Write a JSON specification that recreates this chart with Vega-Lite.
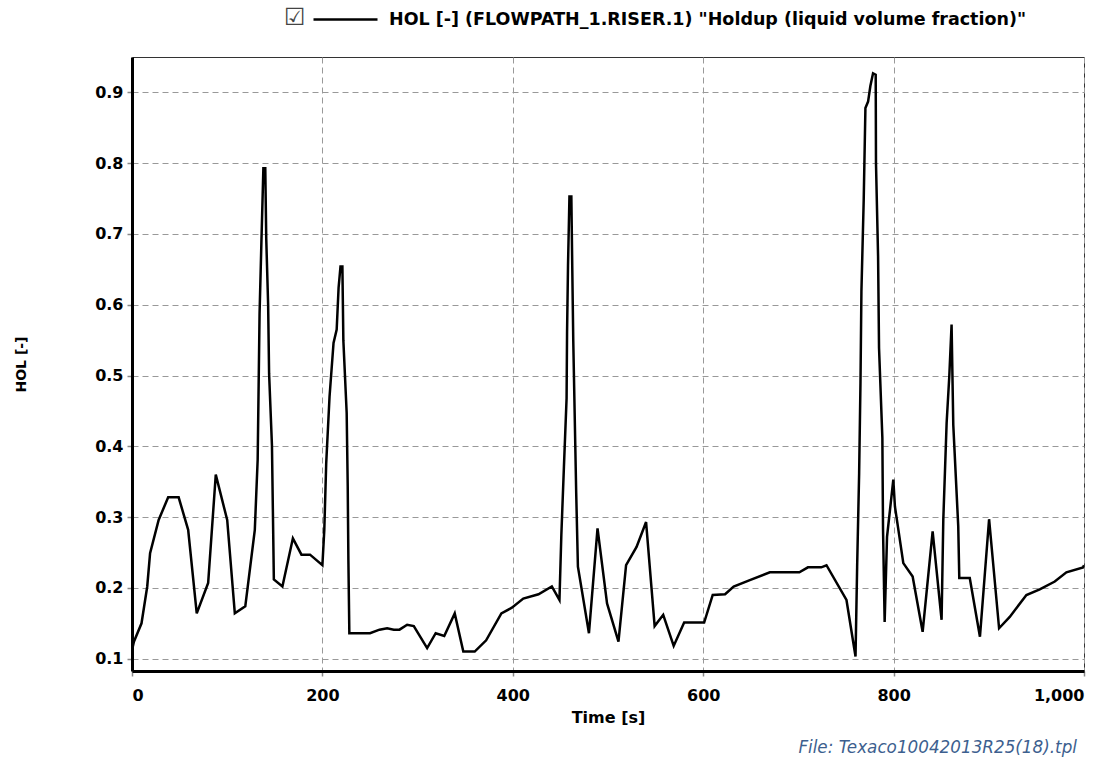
{
  "$schema": "https://vega.github.io/schema/vega-lite/v6.json",
  "width": 952,
  "height": 614,
  "autosize": {"type": "none"},
  "padding": {"left": 132, "top": 57, "right": 29, "bottom": 87},
  "background": "white",
  "title": {
    "text": "File: Texaco10042013R25(18).tpl",
    "orient": "bottom",
    "anchor": "end",
    "frame": "group",
    "font": "DejaVu Sans",
    "fontSize": 16.8,
    "fontStyle": "italic",
    "fontWeight": "normal",
    "color": "#3d5f8f",
    "offset": 15,
    "dx": -7
  },
  "data": {
    "values": [
      {"t": 0, "v": 0.112}, {"t": 2, "v": 0.124}, {"t": 10, "v": 0.150}, {"t": 16, "v": 0.202},
      {"t": 19, "v": 0.249}, {"t": 28, "v": 0.296}, {"t": 38, "v": 0.328}, {"t": 49, "v": 0.328},
      {"t": 59, "v": 0.282}, {"t": 68, "v": 0.164}, {"t": 80, "v": 0.207}, {"t": 88, "v": 0.360},
      {"t": 100, "v": 0.296}, {"t": 108, "v": 0.164}, {"t": 119, "v": 0.174}, {"t": 129, "v": 0.282},
      {"t": 132, "v": 0.381}, {"t": 133, "v": 0.484}, {"t": 134, "v": 0.588}, {"t": 136, "v": 0.692},
      {"t": 138, "v": 0.793}, {"t": 140, "v": 0.793}, {"t": 141, "v": 0.694}, {"t": 143, "v": 0.600},
      {"t": 144, "v": 0.503}, {"t": 147, "v": 0.402}, {"t": 148, "v": 0.308}, {"t": 149, "v": 0.212},
      {"t": 158, "v": 0.202}, {"t": 169, "v": 0.270}, {"t": 178, "v": 0.247}, {"t": 187, "v": 0.247},
      {"t": 200, "v": 0.232}, {"t": 202, "v": 0.282}, {"t": 204, "v": 0.376}, {"t": 207.5, "v": 0.470},
      {"t": 211.7, "v": 0.546}, {"t": 215, "v": 0.565}, {"t": 217, "v": 0.624}, {"t": 219, "v": 0.654},
      {"t": 221, "v": 0.654}, {"t": 222, "v": 0.550}, {"t": 225.5, "v": 0.447}, {"t": 226.6, "v": 0.343},
      {"t": 227.3, "v": 0.239}, {"t": 228.3, "v": 0.136}, {"t": 250, "v": 0.136}, {"t": 260, "v": 0.141},
      {"t": 268, "v": 0.143}, {"t": 275, "v": 0.141}, {"t": 281, "v": 0.141}, {"t": 289, "v": 0.148},
      {"t": 296, "v": 0.146}, {"t": 310, "v": 0.115}, {"t": 319, "v": 0.136}, {"t": 328, "v": 0.132},
      {"t": 339, "v": 0.164}, {"t": 348, "v": 0.110}, {"t": 360, "v": 0.110}, {"t": 372, "v": 0.126},
      {"t": 388, "v": 0.164}, {"t": 399, "v": 0.172}, {"t": 411, "v": 0.185}, {"t": 427, "v": 0.191},
      {"t": 441, "v": 0.202}, {"t": 449, "v": 0.183}, {"t": 451, "v": 0.275}, {"t": 453.7, "v": 0.371},
      {"t": 456.5, "v": 0.468}, {"t": 457, "v": 0.562}, {"t": 458, "v": 0.656}, {"t": 459.5, "v": 0.753},
      {"t": 461.5, "v": 0.753}, {"t": 462.5, "v": 0.649}, {"t": 463.5, "v": 0.550}, {"t": 466.6, "v": 0.334},
      {"t": 468.4, "v": 0.230}, {"t": 480, "v": 0.136}, {"t": 489, "v": 0.284}, {"t": 499, "v": 0.178},
      {"t": 511, "v": 0.124}, {"t": 519, "v": 0.232}, {"t": 530, "v": 0.258}, {"t": 540, "v": 0.293},
      {"t": 549, "v": 0.146}, {"t": 558, "v": 0.162}, {"t": 569, "v": 0.118}, {"t": 580, "v": 0.151},
      {"t": 601, "v": 0.151}, {"t": 610, "v": 0.190}, {"t": 623, "v": 0.191}, {"t": 632, "v": 0.202},
      {"t": 649, "v": 0.211}, {"t": 670, "v": 0.222}, {"t": 701, "v": 0.222}, {"t": 710, "v": 0.229},
      {"t": 724, "v": 0.229}, {"t": 729.5, "v": 0.232}, {"t": 750.5, "v": 0.183}, {"t": 760, "v": 0.103},
      {"t": 761.7, "v": 0.230}, {"t": 763.8, "v": 0.362}, {"t": 765.2, "v": 0.489}, {"t": 766.2, "v": 0.619},
      {"t": 768.6, "v": 0.748}, {"t": 770.4, "v": 0.878}, {"t": 773.2, "v": 0.887}, {"t": 775.6, "v": 0.909},
      {"t": 778.4, "v": 0.927}, {"t": 781.2, "v": 0.925}, {"t": 781.5, "v": 0.800}, {"t": 783.7, "v": 0.668},
      {"t": 784.7, "v": 0.539}, {"t": 788.2, "v": 0.412}, {"t": 788.9, "v": 0.282}, {"t": 790.6, "v": 0.152},
      {"t": 793.1, "v": 0.272}, {"t": 799.7, "v": 0.353}, {"t": 801.4, "v": 0.315}, {"t": 810.2, "v": 0.235},
      {"t": 820, "v": 0.216}, {"t": 830.5, "v": 0.138}, {"t": 841, "v": 0.280}, {"t": 850.4, "v": 0.155},
      {"t": 852.2, "v": 0.296}, {"t": 855.7, "v": 0.433}, {"t": 858.5, "v": 0.499}, {"t": 860.9, "v": 0.572},
      {"t": 862.7, "v": 0.430}, {"t": 867.9, "v": 0.287}, {"t": 869, "v": 0.214}, {"t": 880, "v": 0.214},
      {"t": 890.7, "v": 0.131}, {"t": 900.3, "v": 0.297}, {"t": 910.8, "v": 0.143}, {"t": 922, "v": 0.159},
      {"t": 939.5, "v": 0.190}, {"t": 953.5, "v": 0.198}, {"t": 969.3, "v": 0.209}, {"t": 981.5, "v": 0.222},
      {"t": 999, "v": 0.229}, {"t": 1000, "v": 0.232}
    ]
  },
  "mark": {"type": "line", "strokeWidth": 2.5, "clip": true},
  "encoding": {
    "x": {
      "field": "t", "type": "quantitative", "title": "Time [s]",
      "scale": {"domain": [0, 1000], "nice": false, "zero": false},
      "axis": {"values": [0, 200, 400, 600, 800, 1000], "format": ",d", "labelPadding": 11, "titlePadding": 6}
    },
    "y": {
      "field": "v", "type": "quantitative", "title": "HOL [-]",
      "scale": {"domain": [0.0826, 0.95], "nice": false, "zero": false},
      "axis": {"values": [0.1, 0.2, 0.3, 0.4, 0.5, 0.6, 0.7, 0.8, 0.9], "format": ".1f", "titlePadding": 66, "titleFontSize": 14}
    },
    "color": {
      "datum": "HOL [-] (FLOWPATH_1.RISER.1) \"Holdup (liquid volume fraction)\"",
      "scale": {"range": ["black"]},
      "legend": {
        "orient": "none", "legendX": 152, "legendY": -71, "direction": "horizontal",
        "title": "☑", "titleOrient": "left", "titleAnchor": "start", "titleBaseline": "line-top",
        "titleLineHeight": 64,
        "titleFont": "DejaVu Sans", "titleFontSize": 24,
        "titleFontWeight": "normal", "titleColor": "#444", "titlePadding": 6,
        "symbolType": "stroke", "symbolSize": 4096, "symbolStrokeWidth": 2.5,
        "symbolStrokeColor": "black", "labelFont": "DejaVu Sans", "labelFontSize": 17.5,
        "labelFontWeight": "bold", "labelColor": "black", "labelLimit": 0, "labelOffset": 10
      }
    }
  },
  "config": {
    "view": {"stroke": "#333", "strokeWidth": 1},
    "axis": {
      "labelFont": "DejaVu Sans", "labelFontSize": 16, "labelFontWeight": "bold", "labelColor": "black",
      "titleFont": "DejaVu Sans", "titleFontSize": 16, "titleFontWeight": "bold", "titleColor": "black",
      "domainColor": "black", "domainWidth": 3,
      "tickColor": "#888", "tickSize": 5, "tickWidth": 1.5, "labelPadding": 4,
      "grid": true, "gridColor": "#999", "gridDash": [6, 4], "gridWidth": 1
    }
  }
}
